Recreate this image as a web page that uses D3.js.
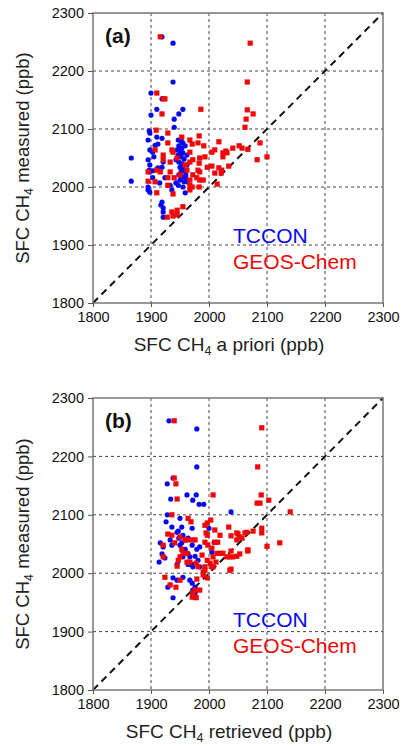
<!DOCTYPE html>
<html>
<head>
<meta charset="utf-8">
<script src="https://cdn.jsdelivr.net/npm/d3@7"></script>
<style>
  body { margin: 0; background: #fff; }
  text { font-family: Arial, "Liberation Sans", sans-serif; }
</style>
</head>
<body>
<svg id="chart" width="403" height="746"></svg>
<script>
// axis ticks (ppb)
const axisTicks = [1800, 1900, 2000, 2100, 2200, 2300]

// panel (a): measured vs a priori, [x, y] in ppb
const tcconApriori = [
  [1919, 2259], [1938, 2248], [1938, 2181], [1900, 2162], [1919, 2152], [1910, 2134], [1900, 2124],
  [1955, 2134], [1948, 2126], [1940, 2117], [1940, 2103], [1897, 2097], [1898, 2093], [1910, 2086],
  [1919, 2084], [1912, 2074], [1907, 2072], [1895, 2081], [1866, 2050], [1866, 2010], [1898, 2064],
  [1903, 2060], [1905, 2052], [1895, 2047], [1898, 2038], [1897, 2029], [1903, 2028], [1910, 2031],
  [1912, 2033], [1919, 2034], [1898, 2026], [1903, 2016], [1895, 2000], [1895, 1995], [1898, 1991],
  [1919, 1974], [1921, 1964], [1921, 1957], [1921, 1948], [1917, 1969], [1947, 2081], [1952, 2079],
  [1955, 2076], [1948, 2071], [1953, 2067], [1959, 2071], [1950, 2062], [1955, 2059], [1947, 2055],
  [1952, 2052], [1957, 2048], [1948, 2043], [1953, 2040], [1950, 2034], [1955, 2031], [1952, 2026],
  [1959, 2028], [1948, 2021], [1953, 2017], [1960, 2016], [1950, 2012], [1957, 2009], [1962, 2009],
  [1955, 2000], [1959, 1990], [1947, 2003], [1943, 2007], [1960, 2021], [1962, 2038], [1962, 2055],
  [1945, 2064], [1943, 2047], [1921, 2043], [1924, 2016], [1915, 2007], [1933, 2003], [1936, 1995]
]
const geosApriori = [
  [1916, 2259], [2071, 2248], [2066, 2181], [1910, 2162], [1921, 2152], [1924, 2152], [1919, 2126],
  [1986, 2134], [2066, 2133], [2076, 2126], [2064, 2117], [2062, 2103], [1909, 2098], [1929, 2093],
  [1953, 2086], [1967, 2081], [1983, 2088], [1929, 2076], [1971, 2074], [1981, 2076], [2017, 2078],
  [1991, 2071], [1907, 2064], [1936, 2064], [1938, 2060], [1967, 2060], [2005, 2060], [2029, 2062],
  [2031, 2059], [2041, 2067], [2052, 2071], [2057, 2067], [2067, 2065], [2088, 2076], [2010, 2064],
  [2024, 2059], [1921, 2055], [1921, 2047], [1933, 2043], [1945, 2050], [1967, 2043], [1972, 2047],
  [1984, 2050], [1983, 2041], [1981, 2029], [1993, 2052], [2024, 2052], [2083, 2047], [2100, 2052],
  [1997, 2034], [2005, 2036], [2017, 2033], [2022, 2029], [2034, 2036], [2010, 2024], [2021, 2024],
  [1895, 2026], [1910, 2029], [1916, 2026], [1933, 2026], [1972, 2021], [1979, 2016], [1984, 2012],
  [1990, 2012], [1967, 2012], [1940, 2016], [1929, 2016], [1895, 2010], [1907, 2009], [1929, 2003],
  [1967, 2003], [1971, 2000], [1983, 2000], [2014, 2005], [1910, 1990], [1938, 1988], [1967, 1995],
  [1955, 1966], [1945, 1960], [1936, 1957], [1945, 1952], [1938, 1950], [1928, 1948], [1984, 2026],
  [1959, 2038], [1962, 2029], [1950, 2021]
]

// panel (b): measured vs retrieved, [x, y] in ppb
const tcconRetrieved = [
  [1931, 2261], [1979, 2247], [1979, 2182], [1938, 2163], [1928, 2153], [1962, 2134], [1978, 2134],
  [1972, 2125], [1983, 2118], [1991, 2118], [1934, 2127], [2038, 2105], [1928, 2100], [1926, 2088],
  [1950, 2094], [1936, 2079], [1953, 2079], [1947, 2072], [1955, 2065], [1948, 2060], [1959, 2057],
  [1953, 2052], [1971, 2077], [1964, 2060], [1945, 2070], [1916, 2052], [1933, 2057], [1921, 2045],
  [1936, 2048], [1919, 2033], [1914, 2019], [1924, 2026], [1971, 2048], [1979, 2041], [1984, 2045],
  [1964, 2033], [1967, 2028], [1976, 2029], [1964, 2015], [1971, 2015], [1972, 2011], [1981, 2022],
  [1984, 2011], [1945, 2015], [1938, 1992], [1945, 1988], [1955, 1993], [1967, 1988], [1929, 1976],
  [1971, 1983], [1976, 1976], [1972, 1971], [1976, 1966], [2009, 2053], [2005, 2036], [2000, 2077],
  [1938, 1958], [1950, 2048], [1959, 2041], [1955, 2028]
]
const geosRetrieved = [
  [1940, 2261], [2091, 2249], [2084, 2182], [1940, 2163], [1943, 2153], [1945, 2127], [2007, 2134],
  [1936, 2100], [2090, 2134], [2083, 2120], [2088, 2120], [2103, 2125], [2140, 2105], [2003, 2091],
  [1993, 2082], [2034, 2079], [2091, 2077], [2091, 2069], [2076, 2072], [2062, 2069], [2050, 2067],
  [2053, 2062], [2057, 2060], [2048, 2057], [2038, 2064], [2019, 2065], [2010, 2053], [1997, 2065],
  [1993, 2053], [2005, 2043], [2122, 2052], [2100, 2046], [2067, 2038], [2053, 2033], [2048, 2029],
  [2041, 2028], [2036, 2028], [2031, 2028], [2024, 2034], [2038, 2038], [2014, 2034], [2007, 2028],
  [2002, 2017], [2012, 2019], [1997, 2022], [2005, 2011], [1993, 2011], [1990, 2002], [1997, 1992],
  [2038, 2007], [1984, 1971], [1969, 2088], [1964, 2094], [1976, 2057], [1950, 2062], [1941, 2052],
  [1921, 2048], [1953, 2041], [1955, 2034], [1962, 2034], [1947, 2022], [1945, 2012], [1962, 2019],
  [1967, 2019], [1978, 2017], [1981, 2011], [1995, 2069], [1997, 2086], [2019, 2034], [1993, 2005],
  [2007, 2011], [1990, 1997], [1924, 1993], [1943, 1976], [1979, 1990], [1976, 1971], [1972, 1966],
  [1976, 1959], [1978, 1958], [1971, 1959], [1929, 2067], [1936, 2065], [1921, 2028], [1950, 2028],
  [1964, 2057], [1972, 2057], [1959, 2057], [1988, 2031], [2067, 2040], [2036, 2005], [1933, 1980],
  [1950, 1988], [2010, 2074], [2048, 2069], [2065, 2070], [2015, 2053], [1998, 2048]
]

const seriesNames = ['TCCON', 'GEOS-Chem']
const seriesColors = ['#0808f0', '#f00808']

const panels = [
  { label: '(a)', xWord: 'a priori', top: 13, height: 290, tccon: tcconApriori, geos: geosApriori, legendY: 243 },
  { label: '(b)', xWord: 'retrieved', top: 398, height: 292, tccon: tcconRetrieved, geos: geosRetrieved, legendY: 627 }
]

const left = 93
const plotWidth = 290
const svg = d3.select('#chart')

panels.forEach(p => renderPanel(svg.append('g').attr('transform', `translate(${left},${p.top})`), p))

function renderPanel (g, p) {
  const x = d3.scaleLinear().domain([1800, 2300]).range([0, plotWidth])
  const y = d3.scaleLinear().domain([1800, 2300]).range([p.height, 0])

  // grid
  g.append('g')
    .selectAll('line')
    .data(axisTicks.slice(1, -1))
    .join('line')
    .attr('x1', d => x(d)).attr('x2', d => x(d))
    .attr('y1', 0).attr('y2', p.height)
    .attr('stroke', '#444').attr('stroke-width', 1).attr('stroke-dasharray', '3,3')
  g.append('g')
    .selectAll('line')
    .data(axisTicks.slice(1, -1))
    .join('line')
    .attr('x1', 0).attr('x2', plotWidth)
    .attr('y1', d => y(d)).attr('y2', d => y(d))
    .attr('stroke', '#444').attr('stroke-width', 1).attr('stroke-dasharray', '3,3')

  // 1:1 line
  g.append('line')
    .attr('x1', x(1800)).attr('y1', y(1800))
    .attr('x2', x(2300)).attr('y2', y(2300))
    .attr('stroke', '#111').attr('stroke-width', 2).attr('stroke-dasharray', '7,5')

  // points
  g.append('g')
    .selectAll('circle')
    .data(p.tccon)
    .join('circle')
    .attr('cx', d => x(d[0])).attr('cy', d => y(d[1]))
    .attr('r', 2.6)
    .attr('fill', seriesColors[0])
  g.append('g')
    .selectAll('rect')
    .data(p.geos)
    .join('rect')
    .attr('x', d => x(d[0]) - 2.6).attr('y', d => y(d[1]) - 2.6)
    .attr('width', 5.2).attr('height', 5.2)
    .attr('fill', seriesColors[1])

  // frame
  g.append('rect')
    .attr('width', plotWidth).attr('height', p.height)
    .attr('fill', 'none').attr('stroke', '#777').attr('stroke-width', 1.5)

  // axes
  const xAxis = g.append('g')
    .attr('transform', `translate(0,${p.height})`)
    .call(d3.axisBottom(x).tickValues(axisTicks).tickSize(4).tickPadding(5).tickFormat(d3.format('d')))
  const yAxis = g.append('g')
    .call(d3.axisLeft(y).tickValues(axisTicks).tickSize(5).tickPadding(4).tickFormat(d3.format('d')))
  ;[xAxis, yAxis].forEach(a => {
    a.select('.domain').remove()
    a.selectAll('line').attr('stroke', '#555')
    a.selectAll('text').attr('font-size', 14.5).attr('fill', '#111').attr('font-family', 'Arial, "Liberation Sans", sans-serif')
  })

  // panel label
  g.append('text')
    .attr('x', 12).attr('y', 30)
    .attr('font-size', 21).attr('font-weight', 'bold').attr('fill', '#111')
    .text(p.label)

  // legend
  seriesNames.forEach((name, i) => {
    g.append('text')
      .attr('x', 140).attr('y', p.legendY - p.top + i * 26)
      .attr('font-size', 21).attr('fill', seriesColors[i])
      .text(name)
  })

  // axis titles
  const xt = g.append('text')
    .attr('x', 136).attr('y', p.height + 48)
    .attr('text-anchor', 'middle')
    .attr('font-size', 19).attr('fill', '#222')
  xt.append('tspan').text('SFC CH')
  xt.append('tspan').attr('font-size', 12.5).attr('dy', 4).text('4')
  xt.append('tspan').attr('dy', -4).text(` ${p.xWord} (ppb)`)

  const yt = g.append('text')
    .attr('transform', `translate(${29 - left},${p.height / 2}) rotate(-90)`)
    .attr('text-anchor', 'middle')
    .attr('font-size', 18.5).attr('fill', '#222')
  yt.append('tspan').text('SFC CH')
  yt.append('tspan').attr('font-size', 12.5).attr('dy', 4).text('4')
  yt.append('tspan').attr('dy', -4).text(' measured (ppb)')
}
</script>
</body>
</html>
